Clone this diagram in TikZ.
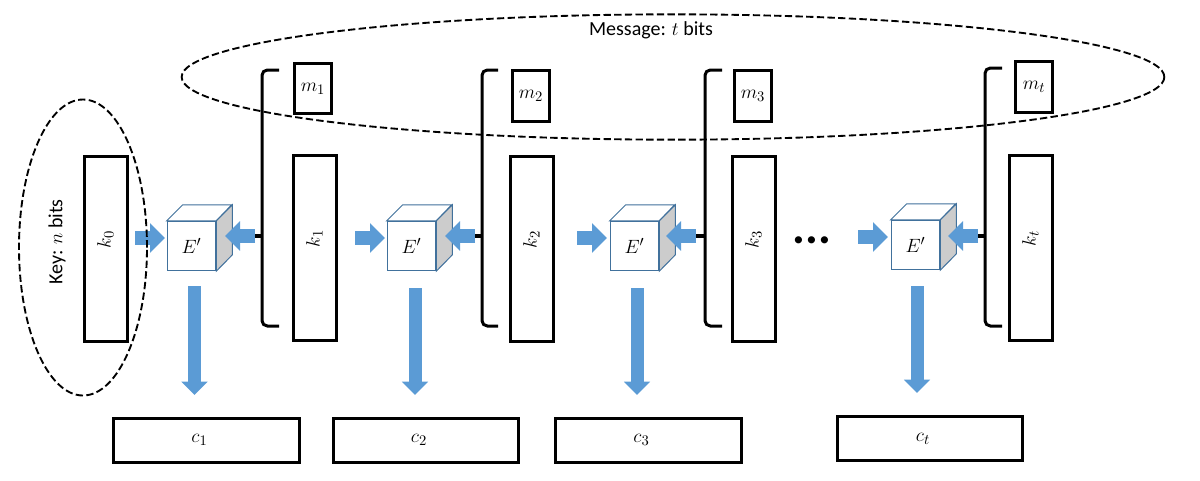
\documentclass[tikz,border=0pt]{standalone}
\usepackage[no-math]{fontspec}
\setmainfont{Carlito}
\usetikzlibrary{arrows.meta,shapes.geometric}
\newcommand{\keytext}[1]{\rotatebox{90}{\kern14pt\raisebox{3pt}{$#1$}}}
\newcommand{\cttext}[1]{$#1$\kern10.5pt}
\begin{document}
\begin{tikzpicture}%
	[x=0.75pt,
	y=-0.75pt,
	box/.style={draw=black, line width=2.25pt, inner sep=0pt, font=\fontsize{15}{18}\selectfont},
	keybox/.style={box, minimum width=32pt, minimum height=139pt},
	msgbox/.style={box, minimum width=28pt, minimum height=38pt},
	ctbox/.style={box, minimum width=139pt, minimum height=33pt},
	cube/.style={draw=cubeedge, line width=0.75pt, fill=white, inner sep=0pt, minimum width=36.5pt, minimum height=37pt, font=\fontsize{15}{18}\selectfont},
	cubeside/.style={draw=cubeedge, line width=0.75pt, fill=black!20},
	cubetop/.style={draw=cubeedge, line width=0.75pt, fill=white},
	bracket/.style={draw=black, line width=2.25pt, rounded corners=4pt},
	bracetip/.style={draw=black, line width=3pt},
	flowin/.style={draw=flowblue, line width=10.5pt, -{Triangle[length=11.25pt,width=21.75pt]}},
	flowdown/.style={draw=flowblue, line width=9.75pt, -{Triangle[length=10pt,width=19pt]}},
	dashgroup/.style={draw=black, line width=1.4pt, dash pattern=on 5.5pt off 2.5pt, ellipse, inner sep=0pt},
	note/.style={font=\fontsize{15}{18}\selectfont, inner sep=0pt}]
\definecolor{flowblue}{HTML}{5B9BD5}
\definecolor{cubeedge}{HTML}{41719C}
\useasboundingbox (0,0) rectangle (1200,480);
%%
%% Coordinates of the arrow ends and braces
%%
\coordinate (in1a) at (135,238);
\coordinate (in1b) at (165,238);
\coordinate (in2a) at (355,238);
\coordinate (in2b) at (385,238);
\coordinate (in3a) at (577,238);
\coordinate (in3b) at (607,238);
\coordinate (in4a) at (858,237);
\coordinate (in4b) at (888,237);
\coordinate (back1) at (225,236);
\coordinate (back2) at (445,236);
\coordinate (back3) at (666,236);
\coordinate (back4) at (948,236);
\coordinate (brace1) at (255,236);
\coordinate (brace2) at (475,236);
\coordinate (brace3) at (696,236);
\coordinate (brace4) at (978,236);
\coordinate (out1a) at (194.5,286);
\coordinate (out1b) at (194.5,395);
\coordinate (out2a) at (415,288);
\coordinate (out2b) at (415,395);
\coordinate (out3a) at (637,288);
\coordinate (out3b) at (637,395);
\coordinate (out4a) at (917,286);
\coordinate (out4b) at (917,393);
%%
%% Drawing the key and message blocks
%%
\node[keybox] (k0) at (106,249) {\keytext{k_0}};
\node[keybox] (k1) at (315,248) {\keytext{k_1}};
\node[keybox] (k2) at (532,249) {\keytext{k_2}};
\node[keybox] (k3) at (754,249) {\keytext{k_3}};
\node[keybox] (kt) at (1031,248) {\keytext{k_t}};
\node[msgbox] (m1) at (313,88.5) {$m_1$};
\node[msgbox] (m2) at (531,96) {$m_2$};
\node[msgbox] (m3) at (753,96) {$m_3$};
\node[msgbox] (mt) at (1034,87) {$m_t$};
%%
%% Drawing the cubes
%%
\node[cube] (cube1) at (191.5,246) {$E'$};
\node[cube] (cube2) at (411.5,246) {$E'$};
\node[cube] (cube3) at (634.5,246) {$E'$};
\node[cube] (cube4) at (915.5,245) {$E'$};
\draw[cubetop] (cube1.north west) -- ++(16,-16) -- ++(49,0) -- (cube1.north east) -- cycle;
\draw[cubetop] (cube2.north west) -- ++(16,-16) -- ++(49,0) -- (cube2.north east) -- cycle;
\draw[cubetop] (cube3.north west) -- ++(16,-16) -- ++(49,0) -- (cube3.north east) -- cycle;
\draw[cubetop] (cube4.north west) -- ++(16,-16) -- ++(49,0) -- (cube4.north east) -- cycle;
\draw[cubeside] (cube1.north east) -- ++(16,-16) -- ++(0,50) -- (cube1.south east) -- cycle;
\draw[cubeside] (cube2.north east) -- ++(16,-16) -- ++(0,50) -- (cube2.south east) -- cycle;
\draw[cubeside] (cube3.north east) -- ++(16,-16) -- ++(0,50) -- (cube3.south east) -- cycle;
\draw[cubeside] (cube4.north east) -- ++(16,-16) -- ++(0,50) -- (cube4.south east) -- cycle;
%%
%% Drawing the braces
%%
\draw[bracket] (279,70) -| (262,326) -- (279,326);
\draw[bracket] (498,70) -| (482,326) -- (498,326);
\draw[bracket] (722,70) -| (705,326) -- (722,326);
\draw[bracket] (1002,68) -| (985,326) -- (1002,326);
\draw[bracetip] (brace1) -- (262,236);
\draw[bracetip] (brace2) -- (482,236);
\draw[bracetip] (brace3) -- (705,236);
\draw[bracetip] (brace4) -- (985,236);
%%
%% Drawing the arrows
%%
\draw[flowin] (in1a) -- (in1b);
\draw[flowin] (in2a) -- (in2b);
\draw[flowin] (in3a) -- (in3b);
\draw[flowin] (in4a) -- (in4b);
\draw[flowin] (brace1) -- (back1);
\draw[flowin] (brace2) -- (back2);
\draw[flowin] (brace3) -- (back3);
\draw[flowin] (brace4) -- (back4);
\draw[flowdown] (out1a) -- (out1b);
\draw[flowdown] (out2a) -- (out2b);
\draw[flowdown] (out3a) -- (out3b);
\draw[flowdown] (out4a) -- (out4b);
%%
%% Drawing the cipher blocks
%%
\node[ctbox] (c1) at (206.5,440) {\cttext{c_1}};
\node[ctbox] (c2) at (426,440) {\cttext{c_2}};
\node[ctbox] (c3) at (648.5,440) {\cttext{c_3}};
\node[ctbox] (ct) at (930,438.5) {\cttext{c_t}};
%%
%% Drawing the dashed groups and their labels
%%
\node[dashgroup, minimum width=96pt, minimum height=222pt] (keygroup) at (83,247.5) {};
\node[dashgroup, minimum width=737pt, minimum height=94pt] (msggroup) at (673,77) {};
\node[note, rotate=90] (keylabel) at (57,242) {Key: $n$ bits};
\node[note] (msglabel) at (651,30) {Message: $t$ bits};
\node[font=\bfseries\fontsize{36}{36}\selectfont, inner sep=0pt, anchor=base] (dots) at (812,243) {...};
%%
\end{tikzpicture}
\end{document}
